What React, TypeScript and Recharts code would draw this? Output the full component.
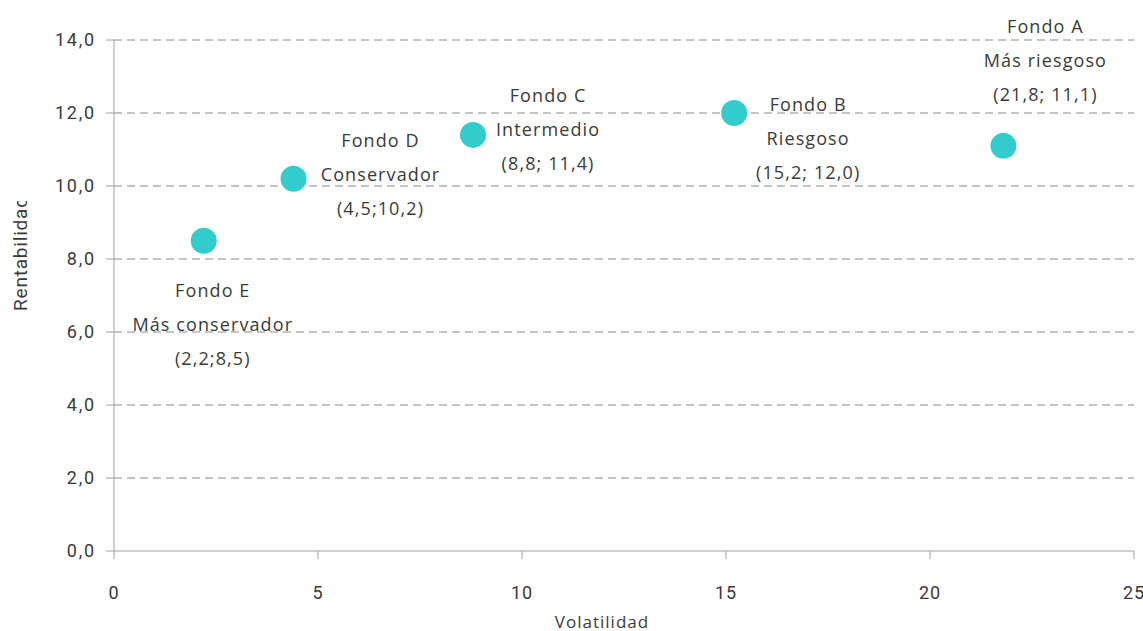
import React from 'react';
import { ScatterChart, Scatter, XAxis, YAxis, CartesianGrid, Label } from 'recharts';

const fundNames = ['Fondo A', 'Fondo B', 'Fondo C', 'Fondo D', 'Fondo E'];
const fundProfiles = ['Más riesgoso', 'Riesgoso', 'Intermedio', 'Conservador', 'Más conservador'];
const volatilidad = [21.8, 15.2, 8.8, 4.4, 2.2];
const rentabilidad = [11.1, 12.0, 11.4, 10.2, 8.5];
const coordLabels = ['(21,8; 11,1)', '(15,2; 12,0)', '(8,8; 11,4)', '(4,5;10,2)', '(2,2;8,5)'];
const xTicks = [0, 5, 10, 15, 20, 25];
const yTicks = [0, 2, 4, 6, 8, 10, 12, 14];

const data = fundNames.map((name, i) => ({
  name,
  profile: fundProfiles[i],
  coord: coordLabels[i],
  x: volatilidad[i],
  y: rentabilidad[i],
}));

// label placement relative to the dot (style only)
const labelOffsets: Record<string, [number, number]> = {
  'Fondo A': [42, -120],
  'Fondo B': [74, -9],
  'Fondo C': [75, -40],
  'Fondo D': [87, -39],
  'Fondo E': [9, 49],
};

const LABEL_FONT = "'Open Sans', sans-serif";
const TICK_FONT = "Roboto, sans-serif";
const TEXT_COLOR = '#3a3a3a';

const DotShape = (props: any) => {
  const { cx, cy, payload } = props;
  const [dx, dy] = labelOffsets[payload.name] || [0, 0];
  const lines = [payload.name, payload.profile, payload.coord];
  return (
    <g>
      <circle cx={cx} cy={cy} r={13} fill="#33CCCC" />
      {lines.map((t, i) => (
        <text
          key={i}
          x={cx + dx}
          y={cy + dy + i * 34}
          textAnchor="middle"
          dominantBaseline="central"
          fontFamily={LABEL_FONT}
          fontSize={18}
          letterSpacing={1.1}
          fill={TEXT_COLOR}
        >
          {t}
        </text>
      ))}
    </g>
  );
};

const YTitle = () => (
  <g>
    <defs>
      <clipPath id="ytitle-clip" clipPathUnits="userSpaceOnUse">
        <rect x={0} y={201} width={40} height={200} />
      </clipPath>
    </defs>
    <g clipPath="url(#ytitle-clip)">
      <text
        x={0}
        y={0}
        transform="translate(27,311) rotate(-90)"
        textAnchor="start"
        fontFamily={TICK_FONT}
        fontSize={19}
        letterSpacing={0.8}
        fill={TEXT_COLOR}
      >
        Rentabilidad
      </text>
    </g>
  </g>
);

const XTitle = () => (
  <text
    x={602}
    y={628}
    textAnchor="middle"
    fontFamily={LABEL_FONT}
    fontSize={17}
    letterSpacing={1}
    fill={TEXT_COLOR}
  >
    Volatilidad
  </text>
);

export default function App() {
  return (
    <div style={{ position: 'absolute', left: 0, top: 0, background: '#fff' }}>
      <ScatterChart width={1143} height={631} margin={{ top: 40, right: 9, bottom: 0, left: 0 }}>
        <CartesianGrid
          horizontal={true}
          vertical={false}
          stroke="#8a8a8a"
          strokeDasharray="8 5"
          horizontalValues={[2, 4, 6, 8, 10, 12, 14]}
        />
        <XAxis
          type="number"
          dataKey="x"
          domain={[0, 25]}
          ticks={xTicks}
          height={80}
          tickSize={8}
          tickMargin={27}
          axisLine={{ stroke: '#a0a0a0' }}
          tickLine={{ stroke: '#a0a0a0' }}
          tick={{ fontFamily: TICK_FONT, fontSize: 18, fill: TEXT_COLOR, letterSpacing: 1 }}
          interval={0}
        >
          <Label content={<XTitle />} />
        </XAxis>
        <YAxis
          type="number"
          dataKey="y"
          domain={[0, 14]}
          ticks={yTicks}
          width={114}
          tickSize={8}
          tickMargin={10}
          axisLine={{ stroke: '#a0a0a0' }}
          tickLine={{ stroke: '#a0a0a0' }}
          tick={{ fontFamily: TICK_FONT, fontSize: 18, fill: TEXT_COLOR, letterSpacing: 1.8 }}
          tickFormatter={(v: number) => v.toFixed(1).replace('.', ',')}
          interval={0}
        >
          <Label content={<YTitle />} />
        </YAxis>
        <Scatter data={data} shape={<DotShape />} isAnimationActive={false} />
      </ScatterChart>
    </div>
  );
}
